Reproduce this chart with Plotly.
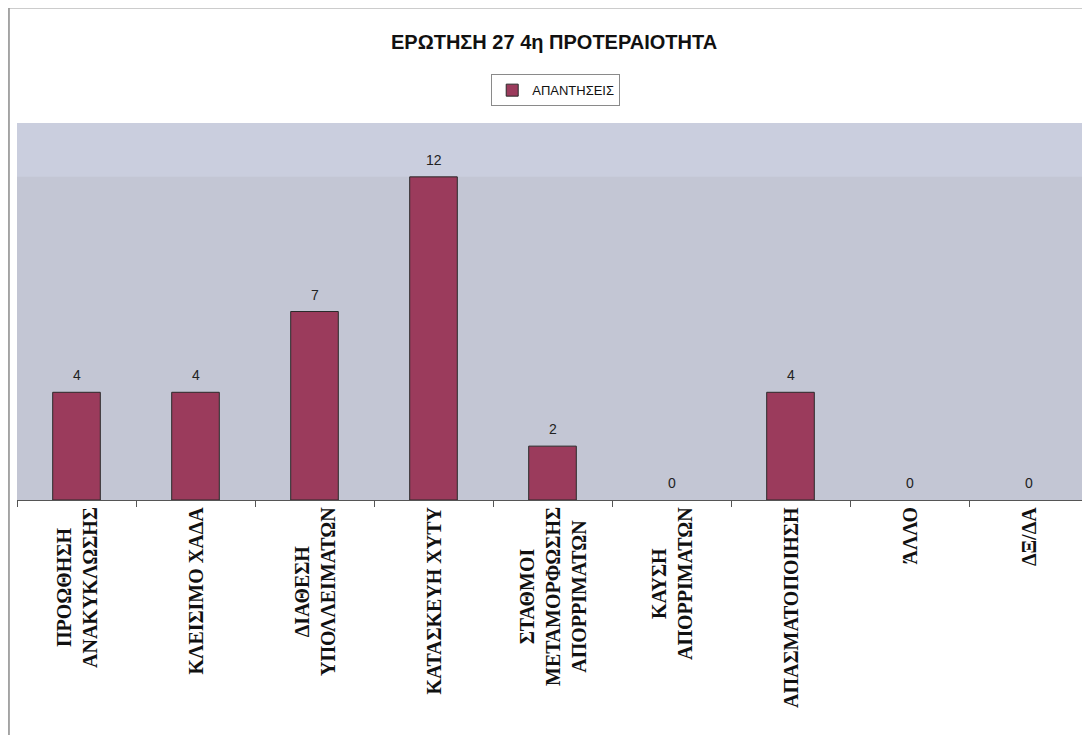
import plotly.graph_objects as go

categories = ["ΠΡΟΩΘΗΣΗ<br>ΑΝΑΚΥΚΛΩΣΗΣ", "ΚΛΕΙΣΙΜΟ ΧΑΔΑ", "ΔΙΑΘΕΣΗ<br>ΥΠΟΛΛΕΙΜΑΤΩΝ",
              "ΚΑΤΑΣΚΕΥΗ ΧΥΤΥ", "ΣΤΑΘΜΟΙ<br>ΜΕΤΑΜΟΡΦΩΣΗΣ<br>ΑΠΟΡΡΙΜΑΤΩΝ", "ΚΑΥΣΗ<br>ΑΠΟΡΡΙΜΑΤΩΝ",
              "ΑΠΑΣΜΑΤΟΠΟΙΗΣΗ", "ΆΛΛΟ", "ΔΞ/ΔΑ"]
values = [4, 4, 7, 12, 2, 0, 4, 0, 0]
series_name = "ΑΠΑΝΤΗΣΕΙΣ"
title_text = "ΕΡΩΤΗΣΗ 27 4η ΠΡΟΤΕΡΑΙΟΤΗΤΑ"

outline = ["#2a2a2a" if v > 0 else "rgba(0,0,0,0)" for v in values]

fig = go.Figure()
fig.add_trace(go.Bar(
    x=categories, y=values, name=series_name,
    marker=dict(color="#9b3b5c", line=dict(color=outline, width=1)),
    showlegend=True,
))

annotations = []
for c, v in zip(categories, values):
    annotations.append(dict(
        x=c, y=v, xref="x", yref="y", text=str(v), showarrow=False,
        yanchor="bottom", yshift=7,
        font=dict(family="Arial, Liberation Sans", size=14, color="#222222"),
    ))
    annotations.append(dict(
        x=c, y=0, xref="x", yref="paper", text="<b>" + c + "</b>", showarrow=False,
        textangle=-90, yanchor="top", xanchor="center", yshift=-5, align="center",
        font=dict(family="Liberation Serif, Times New Roman, serif", size=20, color="#111111"),
    ))

fig.update_layout(
    width=1090, height=735,
    margin=dict(l=9, r=10, t=115, b=243),
    paper_bgcolor="white",
    plot_bgcolor="#c3c6d4",
    bargap=0.6,
    title=dict(text="<b>" + title_text + "</b>", x=0.501, xanchor="center",
               y=1 - 34 / 735, yanchor="middle",
               font=dict(family="Arial, Liberation Sans", size=20, color="#111111")),
    legend=dict(orientation="h", x=0.503, xanchor="center", y=1.087, yanchor="middle",
                bgcolor="white", bordercolor="#8a8a8a", borderwidth=1,
                font=dict(family="Arial, Liberation Sans", size=13, color="#111111"),
                itemwidth=30),
    xaxis=dict(showticklabels=False, ticks="outside", tickson="boundaries", ticklen=6,
               tickcolor="#555555", showline=True, linecolor="#555555", linewidth=1,
               showgrid=False),
    yaxis=dict(range=[0, 14], showticklabels=False, showgrid=False, zeroline=False,
               ticks=""),
    annotations=annotations,
    shapes=[
        dict(type="rect", xref="paper", yref="y", x0=0, x1=1, y0=12, y1=14,
             fillcolor="#cacede", line=dict(width=0), layer="below"),
        dict(type="line", xref="paper", yref="paper", x0=-0.0075, x1=-0.0075,
             y0=-0.64, y1=1.305, line=dict(color="#8a8a8a", width=1.5)),
        dict(type="line", xref="paper", yref="paper", x0=-0.0075, x1=1.01,
             y0=1.305, y1=1.305, line=dict(color="#9a9a9a", width=1)),
    ],
)

fig.write_html("out.html")
